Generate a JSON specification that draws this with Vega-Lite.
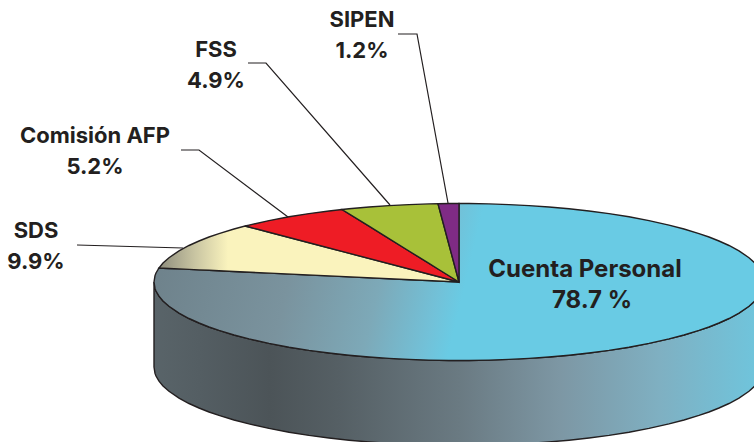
{"$schema":"https://vega.github.io/schema/vega-lite/v6.json","width":754,"height":442,"padding":0,"autosize":{"type":"none"},"background":"white","view":{"stroke":null},
"datasets":{
"wall":[{"x":154,"y":282,"y2":367},{"x":155,"y":288.4,"y2":373.4},{"x":156,"y":291,"y2":376},{"x":159,"y":296.2,"y2":381.2},{"x":163,"y":300.9,"y2":385.9},{"x":169,"y":306.3,"y2":391.3},{"x":179,"y":313.1,"y2":398.1},{"x":189,"y":318.5,"y2":403.5},{"x":199,"y":323,"y2":408},{"x":209,"y":327,"y2":412},{"x":219,"y":330.4,"y2":415.4},{"x":234,"y":335,"y2":420},{"x":249,"y":338.9,"y2":423.9},{"x":269,"y":343.4,"y2":428.4},{"x":289,"y":347.2,"y2":432.2},{"x":309,"y":350.4,"y2":435.4},{"x":329,"y":353,"y2":438},{"x":349,"y":355.2,"y2":440.2},{"x":369,"y":357,"y2":442},{"x":389,"y":358.4,"y2":443.4},{"x":409,"y":359.4,"y2":444.4},{"x":429,"y":360.1,"y2":445.1},{"x":449,"y":360.5,"y2":445.5},{"x":469,"y":360.5,"y2":445.5},{"x":489,"y":360.1,"y2":445.1},{"x":509,"y":359.4,"y2":444.4},{"x":529,"y":358.4,"y2":443.4},{"x":549,"y":357,"y2":442},{"x":569,"y":355.2,"y2":440.2},{"x":589,"y":353,"y2":438},{"x":609,"y":350.4,"y2":435.4},{"x":629,"y":347.2,"y2":432.2},{"x":649,"y":343.4,"y2":428.4},{"x":669,"y":338.9,"y2":423.9},{"x":684,"y":335,"y2":420},{"x":699,"y":330.4,"y2":415.4},{"x":709,"y":327,"y2":412},{"x":719,"y":323,"y2":408},{"x":729,"y":318.5,"y2":403.5},{"x":739,"y":313.1,"y2":398.1},{"x":749,"y":306.3,"y2":391.3},{"x":755,"y":300.9,"y2":385.9},{"x":759,"y":296.2,"y2":381.2},{"x":762,"y":291,"y2":376},{"x":763,"y":288.4,"y2":373.4},{"x":764,"y":282,"y2":367}],
"cuenta":[{"x":154,"y":282,"y2":282},{"x":155,"y":275.6,"y2":288.4},{"x":156,"y":273,"y2":291},{"x":159,"y":268,"y2":296.2},{"x":163,"y":268.2,"y2":300.9},{"x":169,"y":268.5,"y2":306.3},{"x":179,"y":268.9,"y2":313.1},{"x":189,"y":269.4,"y2":318.5},{"x":199,"y":269.9,"y2":323},{"x":209,"y":270.3,"y2":327},{"x":219,"y":270.8,"y2":330.4},{"x":234,"y":271.5,"y2":335},{"x":249,"y":272.2,"y2":338.9},{"x":269,"y":273.1,"y2":343.4},{"x":289,"y":274.1,"y2":347.2},{"x":309,"y":275,"y2":350.4},{"x":329,"y":275.9,"y2":353},{"x":349,"y":276.9,"y2":355.2},{"x":369,"y":277.8,"y2":357},{"x":389,"y":278.7,"y2":358.4},{"x":409,"y":279.7,"y2":359.4},{"x":429,"y":280.6,"y2":360.1},{"x":449,"y":281.5,"y2":360.5},{"x":458.9,"y":282,"y2":360.5},{"x":459,"y":203.5,"y2":360.5},{"x":469,"y":203.5,"y2":360.5},{"x":489,"y":203.9,"y2":360.1},{"x":509,"y":204.6,"y2":359.4},{"x":529,"y":205.6,"y2":358.4},{"x":549,"y":207,"y2":357},{"x":569,"y":208.8,"y2":355.2},{"x":589,"y":211,"y2":353},{"x":609,"y":213.6,"y2":350.4},{"x":629,"y":216.8,"y2":347.2},{"x":649,"y":220.6,"y2":343.4},{"x":669,"y":225.1,"y2":338.9},{"x":684,"y":229,"y2":335},{"x":699,"y":233.6,"y2":330.4},{"x":709,"y":237,"y2":327},{"x":719,"y":241,"y2":323},{"x":729,"y":245.5,"y2":318.5},{"x":739,"y":250.9,"y2":313.1},{"x":749,"y":257.7,"y2":306.3},{"x":755,"y":263.1,"y2":300.9},{"x":759,"y":267.8,"y2":296.2},{"x":762,"y":273,"y2":291},{"x":763,"y":275.6,"y2":288.4},{"x":764,"y":282,"y2":282}],
"sds":[{"x":159,"y":268,"y2":268},{"x":163,"y":263.1,"y2":268.2},{"x":169,"y":257.7,"y2":268.5},{"x":179,"y":250.9,"y2":268.9},{"x":189,"y":245.5,"y2":269.4},{"x":199,"y":241,"y2":269.9},{"x":209,"y":237,"y2":270.3},{"x":219,"y":233.6,"y2":270.8},{"x":234,"y":229,"y2":271.5},{"x":245,"y":226,"y2":272},{"x":459,"y":282,"y2":282}],
"afp":[{"x":245,"y":226,"y2":226},{"x":249,"y":225.1,"y2":227},{"x":269,"y":220.6,"y2":232.3},{"x":289,"y":216.8,"y2":237.5},{"x":309,"y":213.6,"y2":242.7},{"x":329,"y":211,"y2":248},{"x":342,"y":209.5,"y2":251.4},{"x":459,"y":282,"y2":282}],
"fss":[{"x":342,"y":209.5,"y2":209.5},{"x":349,"y":208.8,"y2":213.8},{"x":369,"y":207,"y2":226.2},{"x":389,"y":205.6,"y2":238.6},{"x":409,"y":204.6,"y2":251},{"x":429,"y":203.9,"y2":263.4},{"x":438,"y":203.7,"y2":269},{"x":459,"y":282,"y2":282}],
"sipen":[{"x":438,"y":203.7,"y2":203.7},{"x":449,"y":203.5,"y2":244.7},{"x":459,"y":203.5,"y2":282}],
"leaders":[{"k":"SIPEN","i":0,"x":398,"y":34},{"k":"SIPEN","i":1,"x":417,"y":34},{"k":"SIPEN","i":2,"x":448,"y":203},{"k":"FSS","i":0,"x":248,"y":63},{"k":"FSS","i":1,"x":266,"y":63},{"k":"FSS","i":2,"x":390,"y":205},{"k":"AFP","i":0,"x":181,"y":150},{"k":"AFP","i":1,"x":199,"y":150},{"k":"AFP","i":2,"x":288,"y":217},{"k":"SDS","i":0,"x":77,"y":245},{"k":"SDS","i":1,"x":183,"y":248}],
"labels":[{"t":"SIPEN","x":362,"y":20},{"t":"1.2%","x":362,"y":51},{"t":"FSS","x":216,"y":50},{"t":"4.9%","x":216,"y":81},{"t":"Comisión AFP","x":95,"y":136},{"t":"5.2%","x":95,"y":167},{"t":"SDS","x":36,"y":231},{"t":"9.9%","x":36,"y":262}],
"big":[{"t":"Cuenta Personal","x":585,"y":270},{"t":"78.7 %","x":592,"y":301}]
},
"encoding":{"x":{"field":"x","type":"quantitative","scale":{"domain":[0,754],"nice":false,"zero":false},"axis":null},"y":{"field":"y","type":"quantitative","scale":{"domain":[442,0],"nice":false,"zero":false},"axis":null}},
"layer":[
{"data":{"name":"wall"},"mark":{"type":"area","clip":true,"stroke":"#231f20","strokeWidth":1.4,"fill":{"gradient":"linear","x1":0,"y1":0,"x2":1,"y2":0,"stops":[{"offset":0,"color":"#596469"},{"offset":0.075,"color":"#545e63"},{"offset":0.19,"color":"#4c5458"},{"offset":0.3,"color":"#555f64"},{"offset":0.5,"color":"#6a7a82"},{"offset":0.665,"color":"#7d97a4"},{"offset":0.83,"color":"#7fb0c2"},{"offset":1,"color":"#6ec6de"}]}},"encoding":{"y2":{"field":"y2"}}},
{"data":{"name":"cuenta"},"mark":{"type":"area","clip":true,"stroke":"#231f20","strokeWidth":1.4,"fill":{"gradient":"linear","x1":0,"y1":0,"x2":1,"y2":0.062,"stops":[{"offset":0,"color":"#6d8089"},{"offset":0.25,"color":"#7a939e"},{"offset":0.4,"color":"#7da9b8"},{"offset":0.5,"color":"#72c1d8"},{"offset":0.54,"color":"#69cbe4"},{"offset":1,"color":"#69cbe4"}]}},"encoding":{"y2":{"field":"y2"}}},
{"data":{"name":"sds"},"mark":{"type":"area","clip":true,"stroke":"#231f20","strokeWidth":1.4,"fill":{"gradient":"linear","x1":0,"y1":0,"x2":1,"y2":0,"stops":[{"offset":0,"color":"#8e8d7d"},{"offset":0.12,"color":"#c9c5a2"},{"offset":0.23,"color":"#faf3bd"},{"offset":1,"color":"#faf3bd"}]}},"encoding":{"y2":{"field":"y2"}}},
{"data":{"name":"afp"},"mark":{"type":"area","clip":true,"stroke":"#231f20","strokeWidth":1.4,"fill":"#ee1c25"},"encoding":{"y2":{"field":"y2"}}},
{"data":{"name":"fss"},"mark":{"type":"area","clip":true,"stroke":"#231f20","strokeWidth":1.4,"fill":"#a8c139"},"encoding":{"y2":{"field":"y2"}}},
{"data":{"name":"sipen"},"mark":{"type":"area","clip":true,"stroke":"#231f20","strokeWidth":1.4,"fill":"#7f2b85"},"encoding":{"y2":{"field":"y2"}}},
{"data":{"name":"leaders"},"mark":{"type":"line","stroke":"#231f20","strokeWidth":1.2},"encoding":{"detail":{"field":"k"},"order":{"field":"i"}}},
{"data":{"name":"labels"},"mark":{"type":"text","font":"Inter","fontWeight":"bold","fontSize":22,"fill":"#231f20","align":"center","baseline":"middle"},"encoding":{"text":{"field":"t"}}},
{"data":{"name":"big"},"mark":{"type":"text","font":"Inter","fontWeight":"bold","fontSize":24,"fill":"#231f20","align":"center","baseline":"middle"},"encoding":{"text":{"field":"t"}}}
]}
